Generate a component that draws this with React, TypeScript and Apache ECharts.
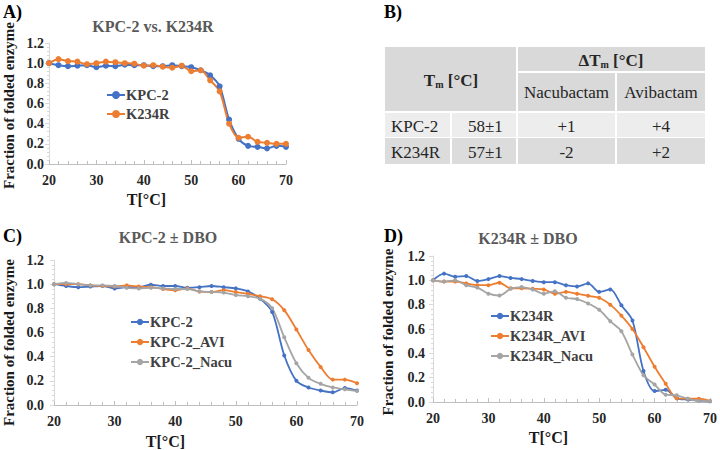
import React, { useEffect, useRef } from "react";
import * as echarts from "echarts";

const temps = [20, 22, 24, 26, 28, 30, 32, 34, 36, 38, 40, 42, 44, 46, 48, 50, 52, 54, 56, 58, 60, 62, 64, 66, 68, 70];

// Panel A
const aKPC2 = [1.0, 0.98, 0.97, 0.975, 0.98, 0.96, 0.975, 0.97, 0.985, 0.98, 0.98, 0.97, 0.97, 0.98, 0.97, 0.96, 0.93, 0.88, 0.77, 0.44, 0.25, 0.18, 0.17, 0.155, 0.18, 0.17];
const aK234R = [1.0, 1.04, 1.02, 1.015, 0.99, 1.0, 1.015, 1.01, 1.0, 0.995, 0.975, 0.98, 0.965, 0.955, 0.975, 0.92, 0.93, 0.83, 0.72, 0.4, 0.26, 0.27, 0.22, 0.21, 0.2, 0.2];

// Panel C
const cKPC2 = [1.0, 0.985, 0.975, 0.98, 0.985, 0.965, 0.975, 0.975, 0.995, 0.985, 0.985, 0.97, 0.975, 0.985, 0.975, 0.965, 0.94, 0.88, 0.77, 0.41, 0.2, 0.145, 0.12, 0.105, 0.14, 0.12];
const cAVI = [1.0, 1.0, 1.0, 0.99, 0.985, 0.98, 0.99, 0.98, 0.975, 0.96, 0.95, 0.965, 0.94, 0.935, 0.95, 0.935, 0.92, 0.9, 0.875, 0.785, 0.625, 0.455, 0.315, 0.21, 0.21, 0.18];
const cNacu = [1.0, 1.01, 1.0, 0.99, 0.99, 0.985, 0.97, 0.965, 0.97, 0.965, 0.96, 0.96, 0.94, 0.935, 0.93, 0.91, 0.9, 0.88, 0.8, 0.56, 0.345, 0.225, 0.175, 0.145, 0.13, 0.115];

// Panel D
const dK234R = [1.0, 1.055, 1.03, 1.035, 0.995, 1.01, 1.035, 1.02, 1.01, 0.995, 0.985, 0.985, 0.96, 0.95, 0.975, 0.905, 0.925, 0.795, 0.67, 0.255, 0.09, 0.1, 0.03, 0.02, 0.01, 0.005];
const dAVI = [1.0, 0.99, 0.99, 0.975, 0.96, 0.96, 0.98, 0.935, 0.935, 0.93, 0.925, 0.89, 0.905, 0.89, 0.873, 0.857, 0.8, 0.71, 0.6, 0.45, 0.29, 0.15, 0.03, 0.027, 0.027, 0.008];
const dNacu = [1.0, 0.99, 1.0, 0.96, 0.94, 0.89, 0.875, 0.93, 0.945, 0.925, 0.89, 0.91, 0.857, 0.846, 0.81, 0.758, 0.664, 0.582, 0.39, 0.22, 0.143, 0.06, 0.055, 0.027, 0.008, 0.008];

const tableHeader = ["Nacubactam", "Avibactam"];
const tableRows = [
  ["KPC-2", "58±1", "+1", "+4"],
  ["K234R", "57±1", "-2", "+2"],
];

const BLUE = "#4472C4";
const ORANGE = "#ED7D31";
const GRAY = "#A5A5A5";
const FONT = "Liberation Serif";
const SH = `"Liberation Serif"`;

const zip = (vals: number[]) => temps.map((t, i) => [t, vals[i]]);

function makeX(gridIndex: number, nameGap: number, shiftLeft: number) {
  return {
    type: "value",
    gridIndex,
    min: 20,
    max: 70,
    interval: 10,
    name: "T[°C]",
    nameLocation: "middle",
    nameGap,
    nameTextStyle: {
      fontFamily: FONT,
      fontWeight: "bold",
      fontSize: 16,
      color: "#1a1a1a",
      padding: [0, shiftLeft * 2, 0, 0],
    },
    axisLine: { show: true, lineStyle: { color: "#bfbfbf", width: 1 } },
    axisTick: { show: true, inside: true, length: 4, lineStyle: { color: "#bfbfbf" } },
    minorTick: { show: true, splitNumber: 5, length: 3, lineStyle: { color: "#bfbfbf" } },
    splitLine: { show: false },
    axisLabel: { fontFamily: FONT, fontWeight: "bold", fontSize: 14, color: "#262626", margin: 9 },
  };
}

function makeY(gridIndex: number, nameGap: number, shiftDown: number, labelMargin: number) {
  return {
    type: "value",
    gridIndex,
    min: 0,
    max: 1.2,
    interval: 0.2,
    name: "Fraction of folded enzyme",
    nameLocation: "middle",
    nameRotate: 90,
    nameGap,
    nameTextStyle: {
      fontFamily: FONT,
      fontWeight: "bold",
      fontSize: 15,
      color: "#1a1a1a",
      padding: [0, shiftDown * 2, 0, 0],
    },
    axisLine: { show: true, lineStyle: { color: "#d9d9d9", width: 1 } },
    axisTick: { show: true, length: 4, lineStyle: { color: "#d9d9d9" } },
    minorTick: { show: true, splitNumber: 5, length: 2, lineStyle: { color: "#d9d9d9" } },
    splitLine: { show: false },
    axisLabel: {
      fontFamily: FONT,
      fontWeight: "bold",
      fontSize: 14,
      color: "#262626",
      margin: labelMargin,
      formatter: (v: number) => v.toFixed(1),
    },
  };
}

function line(name: string, vals: number[], color: string, idx: number, big: boolean) {
  return {
    type: "line",
    name,
    xAxisIndex: idx,
    yAxisIndex: idx,
    data: zip(vals),
    smooth: 0.3,
    symbol: "circle",
    symbolSize: big ? 6 : 4,
    showSymbol: true,
    lineStyle: { color, width: big ? 2 : 1.8 },
    itemStyle: { color },
  };
}

function legend(names: string[], left: number, top: number, gap: number, iconH: number) {
  return {
    data: names,
    orient: "vertical",
    left,
    top,
    padding: 0,
    itemWidth: 18,
    itemHeight: iconH,
    itemGap: gap,
    formatter: (n: string) => n.split("|")[1],
    textStyle: {
      fontFamily: FONT,
      fontWeight: "bold",
      fontSize: 14.5,
      color: "#404040",
      padding: [0, 0, 0, -4],
      lineHeight: 15,
    },
    selectedMode: false,
  };
}

function panelLabel(text: string, x: number, y: number) {
  return {
    type: "text",
    left: x,
    top: y,
    style: { text, font: `bold 18px ${SH}`, fill: "#000" },
  };
}

function buildTable() {
  const els: any[] = [];
  const hdr = "#d9d9d9";
  const r1 = "#ededed";
  const r2 = "#dcdcdc";
  const cols = [
    [385, 65],
    [452, 64],
    [518, 97],
    [617, 88],
  ];
  els.push({ type: "rect", shape: { x: 385, y: 47, width: 131, height: 64 }, style: { fill: hdr } });
  els.push({ type: "rect", shape: { x: 518, y: 47, width: 187, height: 24 }, style: { fill: hdr } });
  els.push({ type: "rect", shape: { x: cols[2][0], y: 73, width: cols[2][1], height: 38 }, style: { fill: hdr } });
  els.push({ type: "rect", shape: { x: cols[3][0], y: 73, width: cols[3][1], height: 38 }, style: { fill: hdr } });
  const rowY = [
    [113, 24, r1],
    [138, 26, r2],
  ];
  rowY.forEach(([y, h, c], ri) => {
    cols.forEach(([x, w], ci) => {
      els.push({ type: "rect", shape: { x, y, width: w, height: h }, style: { fill: c } });
      const txt = tableRows[ri][ci];
      const left = ci === 0;
      els.push({
        type: "text",
        x: left ? x + 6 : ci === 1 ? x + 16 : x + (w as number) / 2,
        y: (y as number) + (h as number) / 2 + 1,
        style: {
          text: txt,
          font: `17px ${SH}`,
          fill: "#262626",
          align: ci >= 2 ? "center" : "left",
          verticalAlign: "middle",
        },
      });
    });
  });
  const rich = {
    a: { font: `bold 17px ${SH}`, fill: "#262626" },
    s: { font: `bold 10px ${SH}`, fill: "#262626", padding: [8, 0, 0, 0] },
  };
  els.push({
    type: "text",
    x: 451,
    y: 80,
    style: { text: "{a|T}{s|m}{a| [°C]}", align: "center", verticalAlign: "middle", rich },
  });
  els.push({
    type: "text",
    x: 611,
    y: 60,
    style: { text: "{a|ΔT}{s|m}{a| [°C]}", align: "center", verticalAlign: "middle", rich },
  });
  tableHeader.forEach((h, i) => {
    const [x, w] = cols[i + 2];
    els.push({
      type: "text",
      x: x + w / 2,
      y: 92,
      style: { text: h, font: `17px ${SH}`, fill: "#262626", align: "center", verticalAlign: "middle" },
    });
  });
  return els;
}

export default function App() {
  const ref = useRef<HTMLDivElement>(null);
  useEffect(() => {
    if (!ref.current) return;
    const chart = echarts.init(ref.current, undefined, { renderer: "svg" });
    const titleStyle = { fontFamily: FONT, fontWeight: "bold", fontSize: 16, color: "#595959" };
    chart.setOption({
      animation: false,
      backgroundColor: "#ffffff",
      textStyle: { fontFamily: FONT },
      title: [
        { text: "KPC-2 vs. K234R", left: 148, top: 13, textAlign: "center", textStyle: titleStyle },
        { text: "KPC-2 ± DBO", left: 163, top: 224, textAlign: "center", textStyle: titleStyle },
        { text: "K234R ± DBO", left: 523, top: 225, textAlign: "center", textStyle: titleStyle },
      ],
      grid: [
        { left: 48, top: 43, width: 238, height: 121 },
        { left: 54, top: 260, width: 303, height: 145 },
        { left: 433, top: 256, width: 277, height: 146 },
      ],
      xAxis: [makeX(0, 27, 21), makeX(1, 28, 40), makeX(2, 27, 23)],
      yAxis: [makeY(0, 33, 2, 5), makeY(1, 38, 10, 10), makeY(2, 38, 3, 8)],
      legend: [
        legend(["A|KPC-2", "A|K234R"], 106, 87.5, 4, 10),
        legend(["C|KPC-2", "C|KPC-2_AVI", "C|KPC-2_Nacu"], 130, 314.5, 5, 8),
        legend(["D|K234R", "D|K234R_AVI", "D|K234R_Nacu"], 490, 308.5, 5, 8),
      ],
      series: [
        line("A|KPC-2", aKPC2, BLUE, 0, true),
        line("A|K234R", aK234R, ORANGE, 0, true),
        line("C|KPC-2", cKPC2, BLUE, 1, false),
        line("C|KPC-2_AVI", cAVI, ORANGE, 1, false),
        line("C|KPC-2_Nacu", cNacu, GRAY, 1, false),
        line("D|K234R", dK234R, BLUE, 2, false),
        line("D|K234R_AVI", dAVI, ORANGE, 2, false),
        line("D|K234R_Nacu", dNacu, GRAY, 2, false),
      ],
      graphic: [
        panelLabel("A)", 3, 3),
        panelLabel("B)", 384, 3),
        panelLabel("C)", 3, 227),
        panelLabel("D)", 384, 227),
        ...buildTable(),
      ],
    });
    return () => chart.dispose();
  }, []);
  return (
    <div
      ref={ref}
      style={{ position: "fixed", left: 0, top: 0, width: 720, height: 450, background: "#fff" }}
    />
  );
}
